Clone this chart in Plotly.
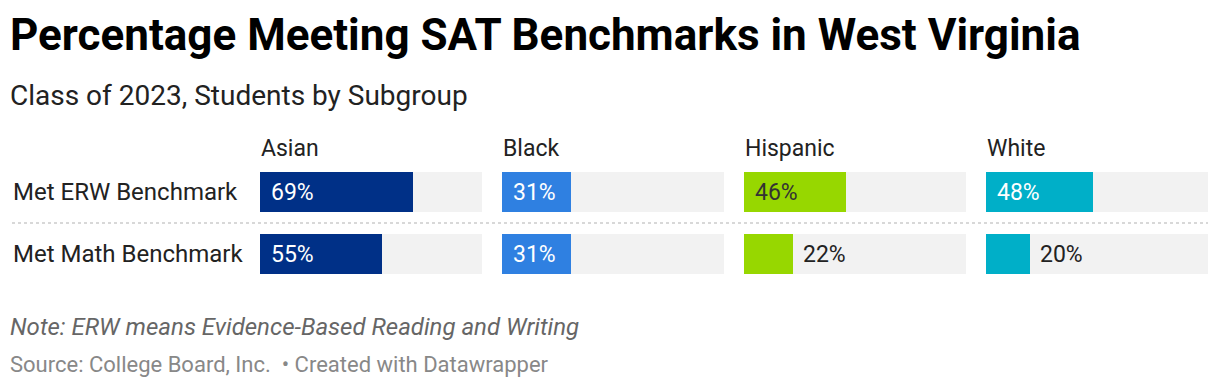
import plotly.graph_objects as go

groups = ["Asian", "Black", "Hispanic", "White"]
rows = ["Met ERW Benchmark", "Met Math Benchmark"]
erw = [69, 31, 46, 48]
math_ = [55, 31, 22, 20]
colors = ["#003087", "#2f80e1", "#97d700", "#00afc8"]
inside_text_colors = ["#ffffff", "#ffffff", "#333333", "#ffffff"]
track_max = 100

title = "Percentage Meeting SAT Benchmarks in West Virginia"
subtitle = "Class of 2023, Students by Subgroup"
note = "Note: ERW means Evidence-Based Reading and Writing"
source = "Source: College Board, Inc.  • Created with Datawrapper"

W, H = 1220, 388
FONT = "Roboto"

col_left = [260, 502, 744, 986]
col_width = 222

fig = go.Figure()
annotations = []

def py(pix):
    return 1 - pix / H

ydom = [py(285), py(161)]

for i, g in enumerate(groups):
    xa = "x" if i == 0 else f"x{i+1}"
    xkey = "xaxis" if i == 0 else f"xaxis{i+1}"
    vals = [erw[i], math_[i]]
    fig.add_trace(go.Bar(
        x=[track_max, track_max], y=[0, 1], orientation="h",
        marker=dict(color="#f2f2f2", line=dict(width=0)), width=0.645,
        xaxis=xa, yaxis="y", hoverinfo="skip", showlegend=False))
    fig.add_trace(go.Bar(
        x=vals, y=[0, 1], orientation="h",
        marker=dict(color=colors[i], line=dict(width=0)), width=0.645,
        xaxis=xa, yaxis="y", showlegend=False,
        hovertemplate=g + ": %{x}%<extra></extra>"))
    fig.layout[xkey] = dict(
        domain=[col_left[i] / W, (col_left[i] + col_width) / W],
        range=[0, track_max], visible=False, fixedrange=True)
    # column header
    annotations.append(dict(
        text=g, x=col_left[i] / W, xref="paper", y=py(148), yref="paper",
        xanchor="left", yanchor="middle", showarrow=False, xshift=-1,
        font=dict(family=FONT, size=23, color="#222222")))
    for r, v in enumerate(vals):
        if v >= 30:
            annotations.append(dict(
                text=f"{v}%", x=0, xref=xa, y=r, yref="y",
                xanchor="left", yanchor="middle", xshift=9, showarrow=False,
                font=dict(family=FONT, size=23, color=inside_text_colors[i])))
        else:
            annotations.append(dict(
                text=f"{v}%", x=v, xref=xa, y=r, yref="y",
                xanchor="left", yanchor="middle", xshift=8, showarrow=False,
                font=dict(family=FONT, size=23, color="#222222")))

for r, lab in enumerate(rows):
    annotations.append(dict(
        text=lab, x=11 / W, xref="paper", y=r, yref="y",
        xanchor="left", yanchor="middle", showarrow=False,
        font=dict(family=FONT, size=24, color="#222222")))

annotations += [
    dict(text=f"<b>{title}</b>", x=8 / W, xref="paper", y=py(35), yref="paper",
         xanchor="left", yanchor="middle", showarrow=False,
         font=dict(family=FONT, size=44, color="#000000")),
    dict(text=subtitle, x=8 / W, xref="paper", y=py(95), yref="paper",
         xanchor="left", yanchor="middle", showarrow=False,
         font=dict(family=FONT, size=28, color="#222222")),
    dict(text=f"<i>{note}</i>", x=8 / W, xref="paper", y=py(327), yref="paper",
         xanchor="left", yanchor="middle", showarrow=False,
         font=dict(family=FONT, size=24, color="#666666")),
    dict(text=source, x=8 / W, xref="paper", y=py(364), yref="paper",
         xanchor="left", yanchor="middle", showarrow=False,
         font=dict(family=FONT, size=22, color="#888888")),
]

fig.update_layout(
    width=W, height=H, margin=dict(l=0, r=0, t=0, b=0),
    paper_bgcolor="#ffffff", plot_bgcolor="#ffffff",
    barmode="overlay", bargap=0,
    yaxis=dict(domain=ydom, range=[1.5, -0.5], visible=False, fixedrange=True),
    annotations=annotations,
    shapes=[dict(type="line", xref="paper", yref="paper",
                 x0=12 / W, x1=1208 / W, y0=py(223), y1=py(223),
                 line=dict(color="#cccccc", width=1.5, dash="dot"))],
    font=dict(family=FONT),
)

fig.write_html("out.html", config={"displayModeBar": False},
               post_script="document.body.style.margin='0';document.body.style.overflow='hidden';")
